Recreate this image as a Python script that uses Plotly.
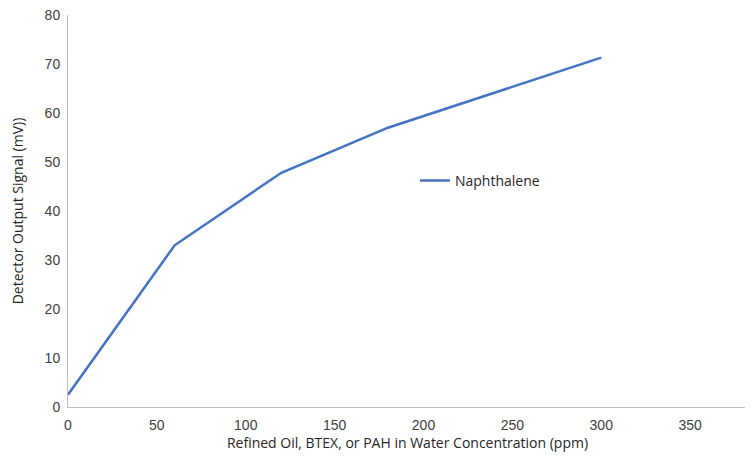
import plotly.graph_objects as go

# concentration (ppm) vs detector signal (mV)
conc_ppm = [0, 60, 120, 180, 300]
signal_mv = [2.5, 33.0, 47.8, 57.0, 71.3]
series_name = "Naphthalene"

x_ticks = [0, 50, 100, 150, 200, 250, 300, 350]
y_ticks = [0, 10, 20, 30, 40, 50, 60, 70, 80]

fig = go.Figure()
fig.add_trace(go.Scatter(
    x=conc_ppm,
    y=signal_mv,
    mode='lines',
    name=series_name,
    line=dict(color='#4472C4', width=2.5),
    showlegend=True
))

title_font = dict(family="Open Sans, Noto Sans", size=14, color='#262626')

# page body has an 8px margin, so the figure is a bit smaller than the window
fig.update_layout(
    width=745,
    height=455,
    paper_bgcolor='white',
    plot_bgcolor='white',
    font=dict(family="Liberation Sans, Arial", size=14, color='#404040'),
    margin=dict(l=60, r=6, t=7, b=56),
    showlegend=True,
    legend=dict(
        x=0.511, y=0.577, xanchor='left', yanchor='middle',
        bgcolor='rgba(0,0,0,0)',
        font=dict(family="Open Sans, Noto Sans", size=14, color='#262626'),
        itemwidth=30
    ),
    xaxis=dict(
        range=[0, 382],
        tickvals=x_ticks,
        automargin=False,
        showgrid=False,
        zeroline=False,
        showline=True,
        linecolor='#bfbfbf',
        linewidth=1,
        ticks='outside',
        ticklen=5,
        tickcolor='white',  # no visible tick marks, only spacing
        ticklabeloverflow='allow',
        title=dict(text="Refined Oil, BTEX, or PAH in Water Concentration (ppm)",
                   font=title_font, standoff=2),
    ),
    yaxis=dict(
        range=[0, 80],
        tickvals=y_ticks,
        automargin=False,
        showgrid=False,
        zeroline=False,
        showline=True,
        linecolor='#bfbfbf',
        linewidth=1,
        ticks='outside',
        ticklen=4,
        tickcolor='white',
        ticklabeloverflow='allow',
        title=dict(text="Detector Output Signal (mV))",
                   font=title_font, standoff=20),
    ),
)

fig.write_html("out.html")
